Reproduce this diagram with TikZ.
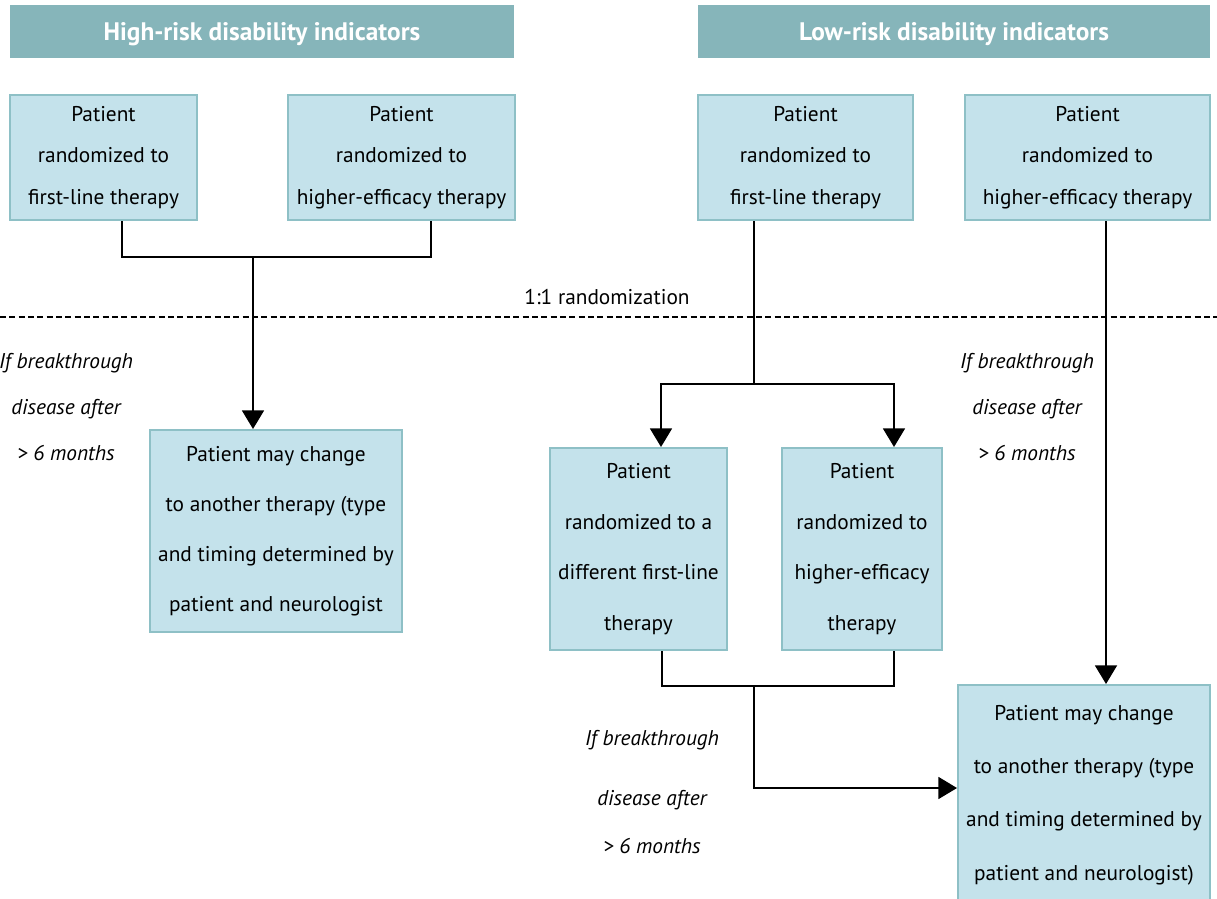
\documentclass[tikz,border=0pt]{standalone}
\usepackage{fontspec}
\setmainfont{PT Sans}
\usetikzlibrary{arrows.meta}
\definecolor{headfill}{HTML}{86B5BA}
\definecolor{boxfill}{HTML}{C4E2EB}
\definecolor{boxline}{HTML}{8EC0C6}
% header text sits with its baseline a little below the band's middle
\newcommand{\headtext}[1]{\raisebox{-7pt}[0pt][0pt]{#1}}
\begin{document}
\begin{tikzpicture}[x=0.75pt,y=-0.75pt,
  sz/.style 2 args={minimum width=#1*0.75pt, minimum height=#2*0.75pt},
  header/.style={fill=headfill, draw=none, inner sep=0pt, text=white,
    font=\fontsize{19}{22}\selectfont\bfseries},
  pbox/.style={draw=boxline, fill=boxfill, line width=1.5pt, inner sep=0pt,
    align=center},
  tight/.style={font=\fontsize{16}{31}\selectfont},
  loose/.style={font=\fontsize{16}{38}\selectfont},
  looser/.style={font=\fontsize{16}{40}\selectfont},
  note/.style={align=center, inner sep=0pt, font=\fontsize{16}{34.5}\selectfont\itshape},
  conn/.style={line width=1.4pt},
  arr/.style={conn, -{Triangle[width=16.5pt,length=14pt]}}]

\useasboundingbox (0,0) rectangle (1217,899);

% group headers
\node[header, sz={504}{53}] (hhi) at (262,31.5) {\headtext{High-risk disability indicators}};
\node[header, sz={512}{53}] (hlo) at (954,31.5) {\headtext{Low-risk disability indicators}};

% initial assignments
\node[pbox, tight, sz={187}{125}] (A) at (103.5,157.5) {Patient\\randomized to\\first-line therapy};
\node[pbox, tight, sz={227}{125}] (B) at (401.5,157.5) {Patient\\randomized to\\higher-efficacy therapy};
\node[pbox, tight, sz={215}{125}] (C) at (805.5,157.5) {Patient\\randomized to\\first-line therapy};
\node[pbox, tight, sz={245}{125}] (D) at (1087.5,157.5) {Patient\\randomized to\\higher-efficacy therapy};

% randomization divider
\coordinate (divL) at (0,317);
\coordinate (divR) at (1217,317);
\draw[line width=1pt, dash pattern=on 4.5pt off 2.5pt] (divL) -- (divR);
\node[font=\fontsize{16}{18}\selectfont, inner sep=0pt] (rand) at (607,297) {1:1 randomization};

% high-risk arm outcome
\node[pbox, font=\fontsize{16}{37.5}\selectfont, sz={252}{202}] (E) at (276,531)
  {Patient may change\\to another therapy (type\\and timing determined by\\patient and neurologist};
\node[note] (nE) at (66,407) {If breakthrough\\disease after\\> 6 months};

% low-risk arm second randomization
\node[pbox, loose, sz={177}{202}] (F) at (638.5,549) {Patient\\randomized to a\\different first-line\\therapy};
\node[pbox, loose, sz={160}{202}] (G) at (862,549) {Patient\\randomized to\\higher-efficacy\\therapy};

% low-risk arm outcome
\node[pbox, looser, sz={252}{220}] (H) at (1084,795)
  {Patient may change\\to another therapy (type\\and timing determined by\\patient and neurologist)};
\node[note] (nD) at (1027,407) {If breakthrough\\disease after\\> 6 months};
\node[note, font=\fontsize{16}{36}\selectfont\itshape] (nF) at (652,792) {If breakthrough\\[9pt]disease after\\> 6 months};

% connectors, high-risk side
\coordinate (hiJoin) at (253,257);
\draw[conn] (A.south -| 122,0) |- (hiJoin) -| (B.south -| 431,0);
\draw[arr] (hiJoin) -- (E.north -| hiJoin);

% connectors, low-risk side
\coordinate (loSplit) at (754,384);
\draw[conn] (C.south -| loSplit) -- (loSplit);
\draw[arr] (loSplit) -| (F.north -| 661,0);
\draw[arr] (loSplit) -| (G.north -| 894,0);
\draw[arr] (D.south -| 1106,0) -- (H.north -| 1106,0);
\coordinate (loJoin) at (754,686);
\draw[conn] (F.south -| 662,0) |- (loJoin) -| (G.south -| 894,0);
\draw[arr] (loJoin) |- (H.west |- 0,788);
\end{tikzpicture}
\end{document}
